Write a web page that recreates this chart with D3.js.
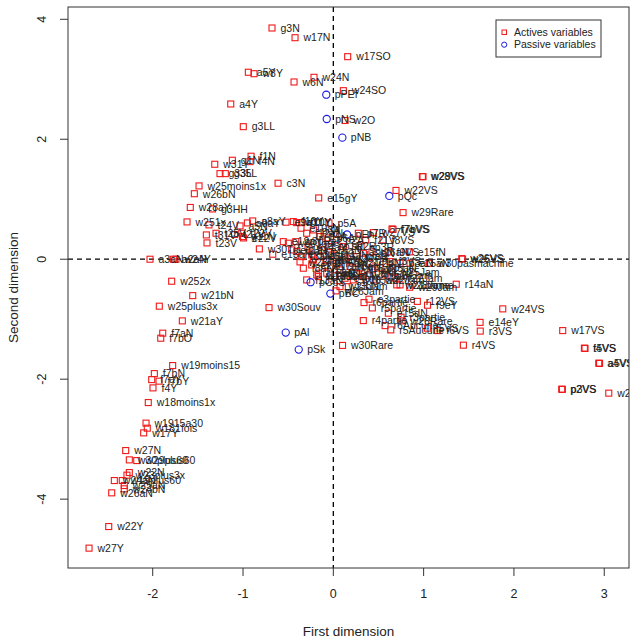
<!DOCTYPE html>
<html><head><meta charset="utf-8">
<script src="https://cdn.jsdelivr.net/npm/d3@7"></script>
<style>body{margin:0;background:#fff}svg{display:block;font-family:"Liberation Sans",Arial,sans-serif}</style>
</head><body>
<svg id="c" width="635" height="638"></svg>
<script>
const xTicks = [-2, -1, 0, 1, 2, 3];
const yTicks = [-4, -2, 0, 2, 4];
const xTitle = "First dimension";
const yTitle = "Second dimension";
const legendLabels = ["Actives variables", "Passive variables"];

const activeLabels = ["g3N","w17N","w17SO","a5Y","w8Y","w24N","w6N","w24SO","w2O","a4Y","g3LL","f1N","f4N","g1N","w31Y","g33L","g35L","c3N","w25moins1x","w26bN","e15gY","w28VS","w29VS","w22VS","w29Rare","f7aVS","f7bVS","e15fN","w26VS","w25VS","w30pasmachine","e15aN","r14aN","w29Jam","w28Jame","r12VS","f9eY","w24VS","e14eY","r3VS","w17VS","r4VS","w30Rare","f6VS","f5VS","f4VS","t5VS","a4VS","a5VS","p2VS","p3VS","w21VS","e3partie","r6partie","r5partie","e15dN","r3partie","r4partie","w26Rare","r6Aucune","r5Aucune","w21aY","f7aN","f7bO","w19moins15","f7bN","f7aY","f7bY","f4Y","w18moins1x","w1915a30","w181fois","w17Y","w27N","w30plus60","w29plus60","w22N","w23plus3x","w24aN","w19plus60","w25aN","w24bN","w26aN","w22Y","w27Y","w28aY","g3HH","w251x","t24V","a5N","a9aY","a8aY","t31V","t25V","t21V","g11N","e22V","t23V","w30Tjs","e13aN","a3aN","a2aN","w24Y","w252x","w21bN","w25plus3x","w30Souv","p5A","f10Y",
"t22V","e9aY","w10Y","f11Y","e10aN","f12aN","w30Rec","e12aY","w30Jour","e11aY","f2aN","f3aN","r2aN","r1aN","f8aN","e2aN","r13aN","w19Jam","w23Jam","f3bN","w18Jam","e4aN","p7R","f21V","w27VS","r2bN","f3VS","p3aN","w20Jam","w22Jam","w21Jame","e5aN","e6aN","f5aN","sp1R","sp2R","p4A","p3A","p2A","sp3R","r8aN","r9aN","f6aN","e7aN","e8aN","r10aN","f13aN","r11aN","e16aN","f14aN","w20Tjs","w21Tjs","r15aN","w22Tjs","f15aN","w24Jam","w25Jam","e17aN","f16aN","w23Tjs","e14aY","p6A","f8VS","r16aN","f9VS","w27Jam","w26Jam"];
const activeX = [-0.679,-0.424,0.159,-0.941,-0.878,-0.214,-0.435,0.111,0.130,-1.136,-0.997,-0.911,-0.922,-1.118,-1.313,-1.255,-1.196,-0.612,-1.487,-1.539,-0.162,0.986,0.993,0.694,0.772,0.650,0.661,0.842,1.422,1.431,1.063,0.849,1.361,0.846,0.739,0.930,1.043,1.876,1.625,1.627,2.540,1.440,0.102,1.156,1.041,2.780,2.787,2.939,2.948,2.529,2.536,3.050,0.395,0.340,0.432,0.609,0.750,0.332,0.761,0.573,0.636,-1.672,-1.889,-1.911,-1.779,-1.982,-2.011,-1.930,-1.997,-2.049,-2.074,-2.060,-2.100,-2.299,-2.259,-2.177,-2.259,-2.285,-2.425,-2.337,-2.315,-2.315,-2.454,-2.487,-2.705,-1.584,-1.338,-1.620,-1.377,-1.033,-0.952,-0.893,-1.406,-1.299,-1.094,-1.006,-0.994,-1.399,-0.819,-0.671,-2.030,-1.772,-1.742,-1.790,-1.557,-1.927,-0.712,-0.048,-0.443,
-1.014,-0.524,-0.405,-0.350,-0.358,-0.295,-0.416,-0.554,-0.498,-0.461,-0.405,-0.350,-0.239,-0.221,-0.332,-0.239,-0.166,-0.166,0.074,0.166,0.221,0.130,0.277,0.359,0.443,0.406,0.628,0.739,0.332,0.481,0.702,-0.147,-0.073,0.038,-0.037,0.111,-0.147,-0.221,0.038,0.307,0.259,0.332,0.185,0.074,-0.073,0.259,-0.295,-0.184,-0.125,-0.014,0.130,0.207,0.296,0.428,0.517,0.573,0.650,-0.092,0.019,-0.369,-0.280,-0.059,0.550,0.428,0.606,0.683,0.030];
const activeY = [3.855,3.693,3.377,3.117,3.093,3.033,2.955,2.810,2.313,2.588,2.210,1.717,1.627,1.650,1.583,1.427,1.427,1.267,1.222,1.092,1.022,1.377,1.377,1.147,0.777,0.505,0.497,0.122,0.010,0.002,-0.067,-0.067,-0.417,-0.467,-0.428,-0.703,-0.767,-0.828,-1.053,-1.198,-1.190,-1.433,-1.437,-1.190,-1.150,-1.483,-1.487,-1.733,-1.737,-2.167,-2.170,-2.233,-0.667,-0.723,-0.812,-0.900,-0.967,-1.023,-1.028,-1.107,-1.178,-1.028,-1.233,-1.317,-1.773,-1.907,-2.007,-2.033,-2.145,-2.390,-2.733,-2.817,-2.895,-3.190,-3.345,-3.357,-3.557,-3.600,-3.690,-3.690,-3.773,-3.828,-3.895,-4.457,-4.817,0.863,0.838,0.622,0.572,0.555,0.605,0.638,0.405,0.433,0.413,0.377,0.355,0.272,0.172,0.083,0.000,0.000,0.000,-0.367,-0.607,-0.783,-0.807,0.605,0.627,
0.433,0.617,0.610,0.610,0.517,0.433,0.293,0.293,0.267,0.155,0.127,0.043,0.072,-0.012,-0.150,-0.095,-0.233,-0.290,-0.457,-0.457,-0.345,-0.317,0.433,0.322,0.443,-0.067,-0.040,-0.067,-0.290,-0.345,-0.428,0.043,-0.012,-0.067,0.210,0.210,0.377,0.488,0.322,0.205,0.043,0.100,-0.123,-0.178,-0.233,-0.233,-0.345,-0.262,0.155,0.072,0.022,-0.045,-0.145,-0.178,-0.145,-0.262,-0.212,-0.112,-0.278,-0.045,0.205,0.355,0.322,0.122,0.122,-0.312,-0.528];

const passiveLabels = ["pPEf","pNS","pNB","pQc","pEn","pCoS","pBC","pAl","pSk"];
const passiveX = [-0.078,-0.073,0.100,0.620,0.152,-0.252,-0.033,-0.527,-0.383];
const passiveY = [2.743,2.338,2.027,1.055,0.413,-0.383,-0.573,-1.223,-1.507];

const svg = d3.select("#c");
const L = 68, R = 629, T = 7, B = 568;
const x = d3.scaleLinear().domain([-2.938, 3.274]).range([L, R]);
const y = d3.scaleLinear().domain([-5.148, 4.205]).range([B, T]);

svg.append("defs").append("clipPath").attr("id","clip")
  .append("rect").attr("x",L).attr("y",T).attr("width",R-L).attr("height",B-T);

const plot = svg.append("g").attr("clip-path","url(#clip)");

plot.append("line").attr("x1",L).attr("x2",R).attr("y1",y(0)).attr("y2",y(0))
  .attr("stroke","#000").attr("stroke-width",1.3).attr("stroke-dasharray","5,4");
plot.append("line").attr("x1",x(0)).attr("x2",x(0)).attr("y1",T).attr("y2",B)
  .attr("stroke","#000").attr("stroke-width",1.3).attr("stroke-dasharray","5,4");

const active = activeLabels.map((l,i)=>({l, x:activeX[i], y:activeY[i]}));
const passive = passiveLabels.map((l,i)=>({l, x:passiveX[i], y:passiveY[i]}));

const s = 6;
plot.selectAll("rect.a").data(active).join("rect").attr("class","a")
  .attr("x",d=>x(d.x)-s/2).attr("y",d=>y(d.y)-s/2).attr("width",s).attr("height",s)
  .attr("fill","none").attr("stroke","#f01818").attr("stroke-width",1.1);
plot.selectAll("circle.p").data(passive).join("circle").attr("class","p")
  .attr("cx",d=>x(d.x)).attr("cy",d=>y(d.y)).attr("r",3.6)
  .attr("fill","none").attr("stroke","#1a1ae0").attr("stroke-width",1.1);

plot.selectAll("text.lab").data(active.concat(passive)).join("text").attr("class","lab")
  .attr("x",d=>x(d.x)+8.5).attr("y",d=>y(d.y)).attr("dy","0.36em")
  .attr("font-size","10.5px").attr("fill","#222").text(d=>d.l);

svg.append("rect").attr("x",L).attr("y",T).attr("width",R-L).attr("height",B-T)
  .attr("fill","none").attr("stroke","#333").attr("stroke-width",1);

const gx = svg.append("g");
xTicks.forEach(t=>{
  gx.append("line").attr("x1",x(t)).attr("x2",x(t)).attr("y1",B).attr("y2",B+8).attr("stroke","#333");
  gx.append("text").attr("x",x(t)).attr("y",B+30).attr("text-anchor","middle")
    .attr("font-size","12.5px").attr("fill","#222").text(t);
});
const gy = svg.append("g");
yTicks.forEach(t=>{
  gy.append("line").attr("x1",L-8).attr("x2",L).attr("y1",y(t)).attr("y2",y(t)).attr("stroke","#333");
  gy.append("text").attr("transform",`translate(${L-22},${y(t)}) rotate(-90)`)
    .attr("text-anchor","middle").attr("font-size","12.5px").attr("fill","#222").text(t);
});
svg.append("text").attr("x",(L+R)/2).attr("y",636).attr("text-anchor","middle")
  .attr("font-size","13.5px").attr("fill","#222").text(xTitle);
svg.append("text").attr("transform",`translate(18,${(T+B)/2}) rotate(-90)`)
  .attr("text-anchor","middle").attr("font-size","13.5px").attr("fill","#222").text(yTitle);

const lg = svg.append("g");
lg.append("rect").attr("x",496).attr("y",20).attr("width",105).attr("height",37)
  .attr("fill","#fff").attr("stroke","#333").attr("stroke-width",1);
lg.append("rect").attr("x",502).attr("y",30).attr("width",4.5).attr("height",4.5)
  .attr("fill","none").attr("stroke","#f01818").attr("stroke-width",1);
lg.append("circle").attr("cx",504.2).attr("cy",44.7).attr("r",2.6)
  .attr("fill","none").attr("stroke","#1a1ae0").attr("stroke-width",1);
legendLabels.forEach((l,i)=>{
  lg.append("text").attr("x",514).attr("y",32.5+i*12.3).attr("dy","0.35em")
    .attr("font-size","10.5px").attr("fill","#222").text(l);
});
</script>
</body></html>
